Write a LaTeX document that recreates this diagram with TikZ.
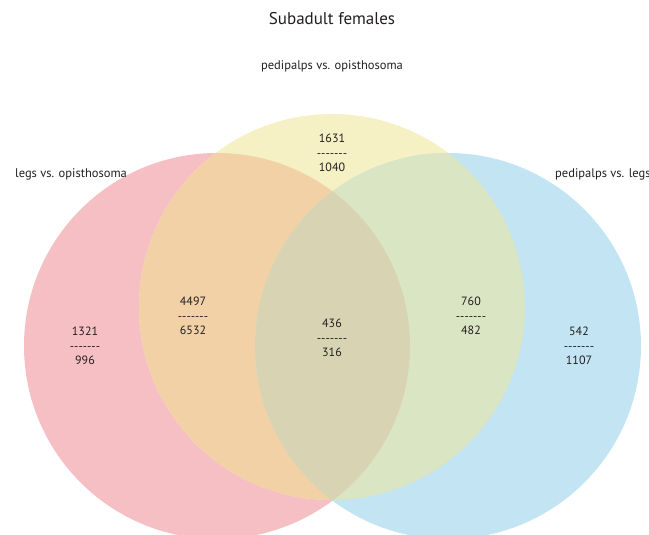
\documentclass[tikz,border=0pt]{standalone}
\usepackage{fontspec}
\setmainfont{PT Sans}
\definecolor{setred}{HTML}{F5BFC3}
\definecolor{setyellow}{HTML}{F6F0C5}
\definecolor{setblue}{HTML}{C2E4F3}
\definecolor{ryover}{HTML}{F2D1A6}
\definecolor{ybover}{HTML}{D9E5C3}
\definecolor{allover}{HTML}{D8D4B3}
\definecolor{inkc}{HTML}{231F20}
% a row of seven separate hyphens (no en/em dash ligatures)
\newcommand{\hyphenrow}{\mbox{-}\mbox{-}\mbox{-}\mbox{-}\mbox{-}\mbox{-}\mbox{-}}
\begin{document}
\begin{tikzpicture}[x=1pt,y=-1pt,
  setlabel/.style={text=inkc,font=\fontsize{12.5}{14}\selectfont,inner sep=0pt},
  count/.style={text=inkc,align=center,inner sep=0pt,
    font=\fontsize{12}{14.5}\selectfont},
  heading/.style={text=inkc,inner sep=0pt,font=\fontsize{17}{20}\selectfont}]
\useasboundingbox (0,0) rectangle (649,535);
\clip (0,0) rectangle (649,535);
\def\rad{193pt}
\coordinate (cr) at (217,346);
\coordinate (cy) at (332,307);
\coordinate (cb) at (448,346);
% the three sets
\fill[setred] (cr) circle (\rad);
\fill[setyellow] (cy) circle (\rad);
\fill[setblue] (cb) circle (\rad);
% pairwise overlaps
\begin{scope}
  \clip (cr) circle (\rad);
  \fill[ryover] (cy) circle (\rad);
\end{scope}
\begin{scope}
  \clip (cy) circle (\rad);
  \fill[ybover] (cb) circle (\rad);
\end{scope}
\begin{scope}
  \clip (cr) circle (\rad);
  \fill[allover] (cb) circle (\rad);
\end{scope}
% titles
\node[heading] (title) at (332,19) {Subadult females};
\node[setlabel] (lyellow) at (332,66) {pedipalps vs. opisthosoma};
\node[setlabel] (lred) at (71,174) {legs vs. opisthosoma};
\node[setlabel,anchor=west] (lblue) at (555,174) {pedipalps vs. legs};
% counts
\node[count] (ny) at (332,153) {1631\\\hyphenrow\\1040};
\node[count] (nr) at (85,346) {1321\\\hyphenrow\\996};
\node[count] (nry) at (193,316) {4497\\\hyphenrow\\6532};
\node[count] (nall) at (332,338) {436\\\hyphenrow\\316};
\node[count] (nyb) at (471,316) {760\\\hyphenrow\\482};
\node[count] (nb) at (579,346) {542\\\hyphenrow\\1107};
\end{tikzpicture}
\end{document}
